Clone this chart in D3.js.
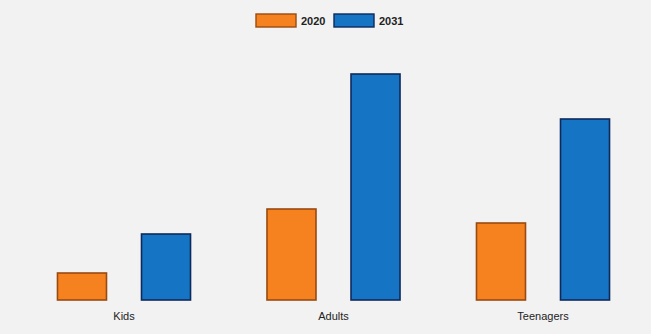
<!DOCTYPE html>
<html><head><meta charset="utf-8">
<script src="https://cdn.jsdelivr.net/npm/d3@7"></script>
<style>html,body{margin:0;padding:0;background:#f2f2f2;}svg{display:block;}</style>
</head><body><svg id="c" width="651" height="334"></svg>
<script>
const categories = ["Kids", "Adults", "Teenagers"];
const seriesNames = ["2020", "2031"];
const values2020 = [2.7, 9.1, 7.7];
const values2031 = [6.6, 22.6, 18.1];
const fills = ["#f5821f", "#1574c4"];
const strokes = ["#9a4a10", "#0e2a5c"];

const seriesValues = [values2020, values2031];
const svg = d3.select("#c");
svg.append("rect").attr("width", 651).attr("height", 334).attr("fill", "#f2f2f2");

const baseline = 300;
const y = d3.scaleLinear().domain([0, 25]).range([baseline, 50]);
const x0 = d3.scaleBand().domain(categories).range([19.25, 647.75]).paddingInner(0).paddingOuter(0);
const x1 = d3.scaleBand().domain(seriesNames).range([0, x0.bandwidth()]).paddingInner(0.4167).paddingOuter(0.455);

const g = svg.append("g");
categories.forEach((c, ci) => {
  seriesNames.forEach((s, si) => {
    const v = seriesValues[si][ci];
    g.append("rect")
      .attr("x", x0(c) + x1(s))
      .attr("y", y(v))
      .attr("width", x1.bandwidth())
      .attr("height", baseline - y(v))
      .attr("fill", fills[si])
      .attr("stroke", strokes[si])
      .attr("stroke-width", 1.6);
  });
});

const xAxis = d3.axisBottom(x0).tickSize(0).tickPadding(12);
const ax = svg.append("g").attr("transform", `translate(0,${baseline})`).call(xAxis);
ax.select(".domain").remove();
ax.selectAll("text").attr("font-family", "Liberation Sans, Arial, sans-serif").attr("font-size", 11).attr("fill", "#222");

// legend
const legendX = [256, 334];
const leg = svg.append("g");
seriesNames.forEach((s, i) => {
  leg.append("rect").attr("x", legendX[i]).attr("y", 14).attr("width", 40).attr("height", 13)
    .attr("fill", fills[i]).attr("stroke", strokes[i]).attr("stroke-width", 1.4);
  leg.append("text").attr("x", legendX[i] + 45).attr("y", 24.5).text(s)
    .attr("font-family", "Liberation Sans, Arial, sans-serif").attr("font-size", 11).attr("font-weight", "bold").attr("fill", "#222");
});
</script></body></html>
